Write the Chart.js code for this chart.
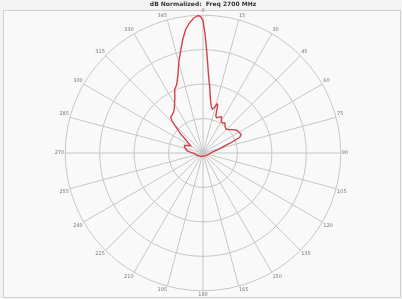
<!DOCTYPE html>
<html>
<head>
<meta charset="utf-8">
<script src="https://cdn.jsdelivr.net/npm/chart.js@4.4.0/dist/chart.umd.min.js"></script>
<style>
    html, body { margin: 0; padding: 0; background: #f3f3f3; }
    #wrap { position: relative; width: 402px; height: 299px; }
    #frame { position: absolute; left: 3px; top: 10px; width: 396px; height: 286px; border: 1px solid #d0d0d0; background: #f9f9f9; }
    #patternChart { position: absolute; left: 0; top: 0; }
</style>
</head>
<body>
<div id="wrap">
    <div id="frame"></div>
    <canvas id="patternChart" width="402" height="299"></canvas>
</div>
<script>
// Pattern samples (angle in degrees clockwise from top, level above the -40 dB floor)
var sampleAngles = [0, 1, 2, 3, 4, 5, 6, 7, 8, 10, 12, 14, 16, 17, 19, 21, 24, 27, 30, 33, 36, 40, 44, 48,
    52, 56, 60, 64, 67, 70, 73, 77, 82, 88, 95, 105, 120, 135, 150, 165, 180, 195, 210, 225, 240, 255,
    265, 272, 278, 283, 288, 292, 296, 300, 304, 308, 311, 314, 316, 318, 321, 324, 327, 330, 333, 336,
    339, 342, 345, 348, 350, 352, 354, 356, 357, 358, 359];
var sampleLevels = [38.4, 34.5, 30, 26, 22.8, 20.6, 19, 17, 15.6, 13.8, 13, 13.6, 14.8, 14.6, 11.4, 11, 11.4, 11.8, 10.6, 10.4, 10.8, 10, 9.6, 10.2,
    11, 11.8, 12.1, 12.3, 11.6, 8.5, 6, 4.4, 3.2, 2.4, 2, 1.6, 1.3, 1.1, 1.0, 0.9, 0.9, 1.0, 1.1, 1.3, 1.6, 2.0,
    2.4, 3.4, 4.6, 5.2, 5.6, 5.8, 5.0, 4.2, 5.0, 6.6, 8.8, 11, 13, 14, 14.2, 14.6, 15.3, 16.5, 18, 20.2,
    21.3, 23.6, 27.2, 30.8, 33.6, 36.2, 37.9, 39.2, 39.6, 39.9, 39.6];

// Angle tick labels (every 15 degrees) and ring levels
var angleTicks = ['0', '15', '30', '45', '60', '75', '90', '105', '120', '135', '150', '165',
    '180', '195', '210', '225', '240', '255', '270', '285', '300', '315', '330', '345'];
var ringStep = 10;
var ringMax = 40;

var chartTitle = 'dB Normalized:  Freq 2700 MHz';

// Build one label per degree; only multiples of 15 get text and a spoke
var degLabels = [];
var levels = [];
for (var d = 0; d < 360; d++) {
    degLabels.push(d % 15 === 0 ? angleTicks[d / 15] : '');
    levels.push(null);
}
sampleAngles.forEach(function (a, i) {
    levels[a] = sampleLevels[i];
});

var gridColor = '#c6c6c6';

var ctx = document.getElementById('patternChart').getContext('2d');
var patternChart = new Chart(ctx, {
    type: 'radar',
    data: {
        labels: degLabels,
        datasets: [{
            label: 'Pattern',
            data: levels,
            spanGaps: true,
            fill: false,
            borderColor: '#d3414d',
            borderWidth: 1.4,
            pointRadius: 0,
            pointHoverRadius: 0,
            tension: 0
        }]
    },
    options: {
        responsive: false,
        animation: false,
        events: [],
        layout: {
            padding: { left: 4, right: 0, top: 0, bottom: 0 }
        },
        plugins: {
            legend: { display: false },
            tooltip: { enabled: false },
            title: {
                display: true,
                text: chartTitle,
                color: '#333',
                font: { family: 'DejaVu Sans', size: 6, weight: 'bold' },
                padding: { top: 1, bottom: 0 }
            }
        },
        scales: {
            r: {
                min: 0,
                max: ringMax,
                startAngle: 0,
                ticks: { stepSize: ringStep, display: false },
                grid: { circular: true, color: gridColor, lineWidth: 1 },
                angleLines: {
                    display: true,
                    lineWidth: 1,
                    color: function (c) {
                        return c.index % 15 === 0 ? gridColor : 'rgba(0,0,0,0)';
                    }
                },
                pointLabels: {
                    display: true,
                    padding: 1,
                    color: '#777',
                    font: { family: 'DejaVu Sans', size: 5 }
                }
            }
        }
    }
});
</script>
</body>
</html>
